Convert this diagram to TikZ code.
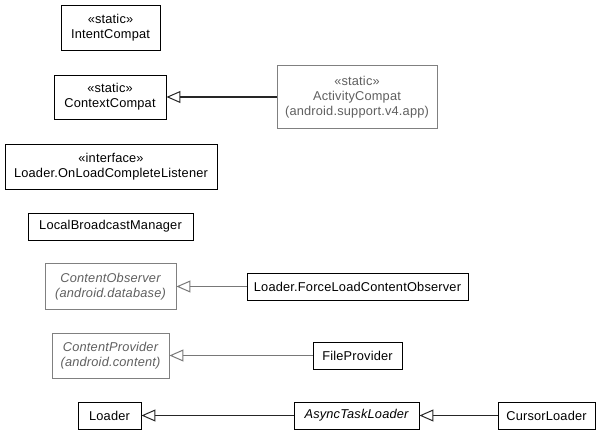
\documentclass[tikz,border=0pt]{standalone}
\usepackage{fontspec}
\setmainfont{Liberation Sans}[LetterSpace=1.5]
\usetikzlibrary{arrows.meta}
\definecolor{extborder}{RGB}{128,128,128}
\definecolor{exttext}{RGB}{96,96,96}
\definecolor{extline}{RGB}{120,120,120}
\tikzset{
  cls/.style={draw=black, line width=0.9pt, fill=white, inner sep=0pt, align=center,
    font=\fontsize{12.8}{15}\selectfont, text=black},
  extcls/.style={cls, draw=extborder, line width=0.9pt, text=exttext},
  gen/.style={line width=1.2pt, draw=black!85, -{Triangle[open, length=14pt, width=12pt, line width=1pt]}},
  extgen/.style={gen, draw=extline},
}
\begin{document}
\begin{tikzpicture}[x=1pt, y=-1pt]
\useasboundingbox (0,0) rectangle (603,435);
\node[cls, minimum width=99pt, minimum height=45pt] (intent) at (110.5,27.5) {«static»\\IntentCompat};
\node[cls, minimum width=112pt, minimum height=44pt] (context) at (110,97) {«static»\\ContextCompat};
\node[extcls, minimum width=160pt, minimum height=63pt] (activity) at (357,97) {«static»\\ActivityCompat\\(android.support.v4.app)};
\node[cls, minimum width=212pt, minimum height=45pt] (listener) at (111,166.5) {«interface»\\Loader.OnLoadCompleteListener};
\node[cls, minimum width=165pt, minimum height=27pt] (lbm) at (110.5,226.5) {LocalBroadcastManager};
\node[extcls, minimum width=131pt, minimum height=46pt] (observer) at (110.5,286.5) {\itshape ContentObserver\\\itshape (android.database)};
\node[cls, minimum width=221pt, minimum height=27pt] (flco) at (357.5,286.5) {Loader.ForceLoadContentObserver};
\node[extcls, minimum width=117pt, minimum height=45pt] (provider) at (110.5,355.5) {\itshape ContentProvider\\\itshape (android.content)};
\node[cls, minimum width=89pt, minimum height=27pt] (fileprov) at (357.5,355.5) {FileProvider};
\node[cls, minimum width=63pt, minimum height=27pt] (loader) at (109.5,415.5) {Loader};
\node[cls, minimum width=125pt, minimum height=27pt] (async) at (356.5,415.5) {\itshape AsyncTaskLoader};
\node[cls, minimum width=97pt, minimum height=27pt] (cursor) at (546.5,415.5) {CursorLoader};
\draw[gen] (activity.west) -- (context.east);
\draw[extgen] (flco.west) -- (observer.east);
\draw[extgen] (fileprov.west) -- (provider.east);
\draw[gen] (async.west) -- (loader.east);
\draw[gen] (cursor.west) -- (async.east);
\end{tikzpicture}
\end{document}
